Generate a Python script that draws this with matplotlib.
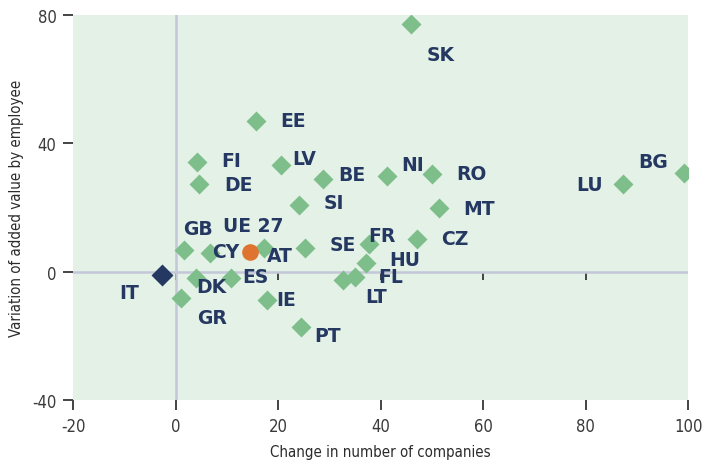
import matplotlib
matplotlib.use("Agg")
import matplotlib.pyplot as plt
from matplotlib import font_manager

plt.rcParams["axes.unicode_minus"] = False

# country data: change in number of companies vs variation of added value by employee
countries = ["SK", "EE", "FI", "DE", "LV", "BE", "SI", "NI", "RO", "MT", "LU", "BG",
             "GB", "CY", "AT", "SE", "FR", "CZ", "HU", "FL", "LT", "DK", "ES", "GR",
             "IE", "PT"]
change_companies = [45.9, 15.6, 4.1, 4.5, 20.6, 28.7, 24.1, 41.3, 49.9, 51.4, 87.2, 99.2,
                    1.6, 6.6, 17.2, 25.3, 37.6, 47.0, 37.2, 35.0, 32.7, 4.0, 10.7, 1.0,
                    17.7, 24.4]
added_value = [77.3, 47.0, 34.3, 27.3, 33.1, 28.8, 20.8, 29.7, 30.5, 19.8, 27.2, 30.8,
               6.9, 5.7, 7.5, 7.5, 8.6, 10.3, 2.6, -1.8, -2.7, -1.9, -1.9, -8.2,
               -8.7, -17.2]

eu_label = "UE 27"
eu_x, eu_y = 14.45, 6.2
it_label = "IT"
it_x, it_y = -2.6, -1.1

x_ticks = [-20, 0, 20, 40, 60, 80, 100]
y_ticks = [-40, 0, 40, 80]

# label placement: offset in pixels from the marker, horizontal alignment
label_pos = {
    "SK": (16, -31, "left"), "EE": (24, 0, "left"), "FI": (24, 1, "left"),
    "DE": (25, 0, "left"), "LV": (11, 7, "left"), "BE": (15, 5, "left"),
    "SI": (24, 2, "left"), "NI": (14, 12, "left"), "RO": (25, 0, "left"),
    "MT": (24, 0, "left"), "LU": (-20, 0, "right"), "BG": (-16, 11, "right"),
    "GB": (-1, 21, "left"), "CY": (2, 2, "left"), "AT": (3, -8, "left"),
    "SE": (24, 3, "left"), "FR": (0, 9, "left"), "CZ": (24, 0, "left"),
    "HU": (23, 4, "left"), "FL": (23, 1, "left"), "LT": (22, -16, "left"),
    "DK": (0, -9, "left"), "ES": (12, 1, "left"), "GR": (16, -20, "left"),
    "IE": (10, 0, "left"), "PT": (13, -9, "left"),
    "UE 27": (3, 26, "center"), "IT": (-23, -17, "right"),
}

green = "#7dbe8b"
navy = "#253862"
orange = "#de7430"
bg = "#e3f1e6"
zero_col = "#c4c7d7"
tick_col = "#444444"

label_font = font_manager.FontProperties(family="DejaVu Sans", stretch="condensed", size=10.8)
tick_font = font_manager.FontProperties(family="DejaVu Sans", stretch="condensed", size=12)

fig = plt.figure(figsize=(7.16, 4.64), dpi=100)
ax = fig.add_axes([0.1024, 0.1358, 0.8589, 0.8297])
ax.set_facecolor(bg)

ax.axhline(0, color=zero_col, lw=1.8, zorder=1)
ax.axvline(0, color=zero_col, lw=1.8, zorder=1)

ax.plot(change_companies, added_value, linestyle="none", marker="D", ms=10.2,
        color=green, mec="none", zorder=3)
ax.plot([it_x], [it_y], linestyle="none", marker="D", ms=10.8, color=navy,
        mec="none", zorder=3)
ax.plot([eu_x], [eu_y], linestyle="none", marker="o", ms=12, color=orange,
        mec="none", zorder=4)

all_names = countries + [eu_label, it_label]
all_x = change_companies + [eu_x, it_x]
all_y = added_value + [eu_y, it_y]
for name, x, y in zip(all_names, all_x, all_y):
    dx, dy, ha = label_pos[name]
    ax.annotate(name, (x, y), xytext=(dx, dy), textcoords="offset pixels",
                ha=ha, va="center", fontsize=13.5, fontweight="bold",
                color=navy, zorder=5)

ax.set_xlim(-20, 100)
ax.set_ylim(-40, 80)
ax.set_xticks(x_ticks)
ax.set_yticks(y_ticks)
for s in ax.spines.values():
    s.set_visible(False)
ax.tick_params(length=7, width=1.4, color=tick_col, labelcolor="#3a3a3a", pad=5)
for lab in ax.get_xticklabels() + ax.get_yticklabels():
    lab.set_fontproperties(tick_font)

# small ticks along the zero line
sec = ax.secondary_xaxis(1 / 3)
sec.set_xticks(x_ticks[1:-1])
sec.tick_params(direction="out", length=6, width=1.4, color=tick_col, labelbottom=False,
                labeltop=False)
sec.spines["bottom"].set_visible(False)
sec.spines["top"].set_visible(False)

ax.set_xlabel("Change in number of companies", fontproperties=label_font,
              color="#2b2b2b", labelpad=7)
ax.set_ylabel("Variation of added value by employee", fontproperties=label_font,
              color="#2b2b2b", labelpad=6)

fig.savefig("out.png", dpi=100)
